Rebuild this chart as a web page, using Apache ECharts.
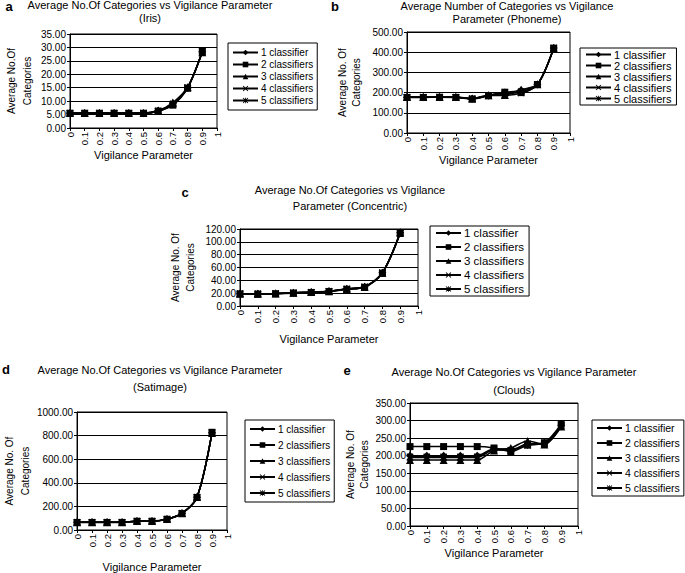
<!DOCTYPE html>
<html><head><meta charset="utf-8">
<script src="https://cdn.jsdelivr.net/npm/echarts@6/dist/echarts.min.js"></script>
<style>html,body{margin:0;padding:0;background:#fff}#c{width:685px;height:573px}</style>
</head><body><div id="c"></div>
<script>
// ---------- data ----------
const vigilance = [0, 0.1, 0.2, 0.3, 0.4, 0.5, 0.6, 0.7, 0.8, 0.9];
const seriesNames = ['1 classifier', '2 classifiers', '3 classifiers', '4 classifiers', '5 classifiers'];

const irisValues = [
  [5.5, 5.5, 5.5, 5.5, 5.5, 5.5, 6.4, 9.2, 15.0, 28.4],
  [5.5, 5.5, 5.5, 5.5, 5.5, 5.5, 6.3, 8.5, 14.8, 28.6],
  [5.6, 5.6, 5.6, 5.6, 5.6, 5.6, 6.5, 9.5, 15.2, 28.2],
  [5.5, 5.5, 5.5, 5.5, 5.5, 5.5, 6.2, 8.9, 15.0, 28.5],
  [5.5, 5.5, 5.5, 5.5, 5.5, 5.5, 6.3, 9.0, 15.1, 28.4]
];
const phonemeValues = [
  [177, 177, 177, 177, 170, 186, 200, 212, 240, 421],
  [176, 176, 177, 176, 168, 185, 202, 200, 240, 420],
  [178, 178, 178, 178, 171, 187, 188, 214, 241, 419],
  [177, 177, 177, 177, 170, 186, 186, 198, 239, 420],
  [177, 177, 177, 177, 169, 185, 192, 205, 240, 421]
];
const concentricValues = [
  [19, 19, 19.5, 20.5, 21.5, 23, 26.5, 30, 52, 114],
  [19, 18.5, 19, 20, 21, 22.5, 26, 29, 51, 113],
  [19, 19, 19.5, 20.5, 22, 23, 27, 30, 52, 115],
  [19, 19, 19.5, 20.5, 21.5, 23, 26.5, 29.5, 52, 114],
  [19, 19, 19.5, 20.5, 21.5, 23, 26.5, 30, 52, 114]
];
const satimageValues = [
  [65, 65, 65, 65, 75, 75, 92, 141, 278, 825],
  [64, 64, 64, 64, 74, 74, 91, 140, 276, 828],
  [66, 66, 66, 66, 76, 76, 93, 142, 280, 822],
  [65, 65, 65, 65, 75, 75, 92, 141, 278, 825],
  [65, 65, 65, 65, 75, 75, 92, 141, 278, 825]
];
const cloudsValues = [
  [200, 200, 200, 200, 200, 220, 218, 232, 236, 287],
  [226, 226, 226, 226, 226, 222, 212, 230, 237, 290],
  [188, 188, 188, 188, 188, 215, 222, 242, 232, 283],
  [197, 197, 197, 197, 197, 218, 215, 234, 234, 286],
  [195, 195, 195, 195, 195, 217, 216, 230, 235, 285]
];

const yTicks = [
  {min: 0, max: 35, interval: 5},
  {min: 0, max: 500, interval: 100},
  {min: 0, max: 120, interval: 20},
  {min: 0, max: 1000, interval: 200},
  {min: 0, max: 350, interval: 50}
];
const xTicks = {min: 0, max: 1, interval: 0.1};

const panelLetters = ['a', 'b', 'c', 'd', 'e'];
const titleLine1 = [
  'Average No.Of Categories vs Vigilance Parameter',
  'Average Number of Categories vs Vigilance',
  'Average No.Of Categories vs Vigilance',
  'Average No.Of Categories vs Vigilance Parameter',
  'Average No.Of Categories vs Vigilance Parameter'
];
const titleLine2 = ['(Iris)', 'Parameter (Phoneme)', 'Parameter (Concentric)', '(Satimage)', '(Clouds)'];
const yNames = ['Average No.Of\nCategories', 'Average No. Of\nCategories', 'Average No. Of\nCategories', 'Average No. Of\nCategories', 'Average No. Of\nCategories'];
const xName = 'Vigilance Parameter';

// ---------- layout ----------
const panels = [
  {grid: {left: 70, top: 34, width: 147, height: 94}, yGap: 35, yLH: 16, xGap: 21,
   legend: {left: 228, top: 43, gap: 1, lh: 11, pad: [4, 4], fs: 10}, t: {x: 150, y1: 5, y2: 18}, letter: {x: 9, y: 6}},
  {grid: {left: 407, top: 32, width: 163, height: 101}, yGap: 44, yLH: 14, xGap: 20,
   legend: {left: 580, top: 48, gap: 0, lh: 10, pad: [1, 5], fs: 11}, t: {x: 507, y1: 6, y2: 19}, letter: {x: 335, y: 6}},
  {grid: {left: 240, top: 229, width: 178, height: 77}, yGap: 42, yLH: 15, xGap: 27,
   legend: {left: 430, top: 226, gap: 2, lh: 12, pad: [1, 5], fs: 11.5}, t: {x: 350, y1: 190, y2: 206}, letter: {x: 185, y: 192}},
  {grid: {left: 70, top: 412, width: 157, height: 118}, yGap: 44, yLH: 16, xGap: 31,
   legend: {left: 245, top: 420, gap: 4, lh: 12, pad: [3, 4], fs: 10}, t: {x: 160, y1: 370, y2: 387}, letter: {x: 6, y: 369}},
  {grid: {left: 410, top: 403, width: 168, height: 123}, yGap: 38, yLH: 14, xGap: 21,
   legend: {left: 592, top: 420, gap: 3, lh: 12, pad: [2, 4], fs: 10.5}, t: {x: 514, y1: 372, y2: 390}, letter: {x: 347, y: 370}}
];
const allValues = [irisValues, phonemeValues, concentricValues, satimageValues, cloudsValues];

const crossPath = 'path://M0,1.2 L1.2,0 L5,3.8 L8.8,0 L10,1.2 L6.2,5 L10,8.8 L8.8,10 L5,6.2 L1.2,10 L0,8.8 L3.8,5 Z';
const starPath = 'path://M4.3,0 L5.7,0 L5.7,10 L4.3,10 Z M0,1.2 L1.2,0 L5,3.8 L8.8,0 L10,1.2 L6.2,5 L10,8.8 L8.8,10 L5,6.2 L1.2,10 L0,8.8 L3.8,5 Z';
const symbols = ['diamond', 'rect', 'triangle', crossPath, starPath];
const symbolSizes = [8, 7, 8, 7, 7];

const font = 'Liberation Sans, Arial, sans-serif';
const grids = [], xAxes = [], yAxes = [], series = [], legends = [], graphics = [];

panels.forEach((p, i) => {
  grids.push(Object.assign({show: true, borderColor: '#000', borderWidth: 1, backgroundColor: 'transparent'}, p.grid));
  xAxes.push({
    type: 'value', gridIndex: i, min: xTicks.min, max: xTicks.max, interval: xTicks.interval,
    name: xName, nameLocation: 'middle', nameGap: p.xGap,
    nameTextStyle: {fontSize: 11, color: '#000', fontFamily: font},
    axisLine: {show: true, lineStyle: {color: '#000', width: 1}},
    axisTick: {show: true, length: 3, lineStyle: {color: '#000'}},
    splitLine: {show: false},
    axisLabel: {rotate: 90, fontSize: 9.5, color: '#000', fontFamily: font, margin: 4,
      formatter: v => String(+v.toFixed(1))}
  });
  yAxes.push({
    type: 'value', gridIndex: i, min: yTicks[i].min, max: yTicks[i].max, interval: yTicks[i].interval,
    name: yNames[i], nameLocation: 'middle', nameRotate: 90, nameGap: p.yGap,
    nameTextStyle: {fontSize: 10, color: '#000', fontFamily: font, lineHeight: p.yLH},
    axisLine: {show: true, lineStyle: {color: '#000', width: 1}},
    axisTick: {show: true, length: 3, lineStyle: {color: '#000'}},
    splitLine: {show: true, lineStyle: {color: '#000', width: 1}},
    axisLabel: {fontSize: 10, color: '#000', fontFamily: font, margin: 4, formatter: v => v.toFixed(2)}
  });
  allValues[i].forEach((vals, k) => {
    series.push({
      type: 'line', name: seriesNames[k], xAxisIndex: i, yAxisIndex: i,
      data: vigilance.map((x, j) => [x, vals[j]]),
      smooth: 0.3, symbol: symbols[k], symbolSize: symbolSizes[k],
      lineStyle: {color: '#000', width: 1.5}, itemStyle: {color: '#000'},
      animation: false
    });
  });
  legends.push({
    orient: 'vertical', left: p.legend.left, top: p.legend.top, data: seriesNames,
    itemGap: p.legend.gap, itemWidth: 25, itemHeight: 7, padding: p.legend.pad,
    borderColor: '#000', borderWidth: 1, selectedMode: false,
    textStyle: {fontSize: p.legend.fs, color: '#000', fontFamily: font, lineHeight: p.legend.lh, padding: [0, 0, 0, -2]}
  });
  graphics.push(
    {type: 'text', x: p.t.x, y: p.t.y1, style: {text: titleLine1[i], fill: '#000', font: '11px ' + font, textAlign: 'center', textVerticalAlign: 'middle'}},
    {type: 'text', x: p.t.x, y: p.t.y2, style: {text: titleLine2[i], fill: '#000', font: '11px ' + font, textAlign: 'center', textVerticalAlign: 'middle'}},
    {type: 'text', x: p.letter.x, y: p.letter.y, style: {text: panelLetters[i], fill: '#000', font: 'bold 13px ' + font, textAlign: 'center', textVerticalAlign: 'middle'}}
  );
});

const chart = echarts.init(document.getElementById('c'), null, {renderer: 'svg', width: 685, height: 573});
chart.setOption({
  animation: false, backgroundColor: '#fff',
  grid: grids, xAxis: xAxes, yAxis: yAxes, series: series, legend: legends, graphic: graphics
});
</script></body></html>
